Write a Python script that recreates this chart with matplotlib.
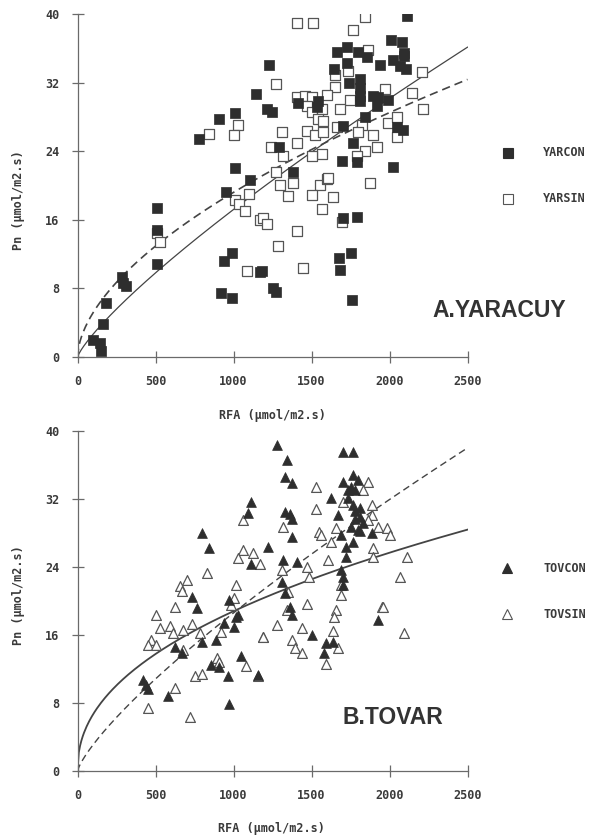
import numpy as np
import matplotlib
matplotlib.use("Agg")
import matplotlib.pyplot as plt

# ---------------- data ----------------
yarcon_x = [100,144,150,163,183,285,290,311,510,510,510,952,1106,942,990,920,990,1170,1185,1250,1274,
            1700,1792,1677,1754,1683,1760,1228,1144,1215,1247,907,1010,779,1290,1010,
            2113,2010,2080,2093,2093,2023,2068,2106,1939,1727,1664,1799,1856,1727,1644,1741,1811,1811,1811,1811,
            1895,1927,1920,1991,1843,1414,1542,1535,1702,2048,2087,1766,1695,1792,2023,1381]
yarcon_y = [2.0,1.6,0.7,3.9,6.3,9.3,8.6,8.3,17.4,14.8,10.9,19.2,20.6,11.2,12.1,7.5,6.9,9.9,10.0,8.0,7.6,
            16.2,16.3,11.6,12.1,10.2,6.7,34.1,30.7,28.9,28.6,27.8,28.5,25.4,24.5,22.0,
            39.8,37.0,36.7,35.5,35.1,34.6,33.9,33.6,34.0,36.2,35.6,35.6,35.0,34.3,33.6,32.0,32.4,31.4,30.4,29.8,
            30.4,30.3,29.3,30.0,28.0,29.6,29.8,29.2,26.9,26.8,26.5,25.0,22.8,22.7,22.2,21.6]

yarsin_x = [510,529,1010,1036,1074,1100,1170,1189,1215,1286,1087,1298,1381,1554,1600,1875,1350,1503,1637,1567,1407,
            1445,1695,1272,1029,1003,843,1240,1272,1407,1510,1843,1766,1860,1735,1651,2209,1971,2145,1651,1600,
            1407,1458,1503,1747,1471,1503,1567,1683,2215,1542,1574,1664,1824,1991,2048,1311,1471,1522,1574,1798,
            1895,2048,1407,1920,1843,1318,1567,1503,1792,1606]
yarsin_y = [14.5,13.4,18.3,17.8,17.0,19.0,16.0,16.2,15.5,12.9,10.0,20.1,20.3,20.0,20.7,20.3,18.8,18.9,18.7,17.3,14.7,
            10.4,15.8,31.8,27.0,25.9,26.0,24.5,21.6,38.9,38.9,39.7,38.1,35.8,33.4,32.9,33.2,31.3,30.8,31.5,30.5,
            30.3,30.4,30.3,30.0,29.3,28.6,28.9,28.9,28.9,27.7,27.5,26.8,27.1,27.3,28.0,26.2,26.4,25.9,26.2,26.2,
            25.9,25.7,25.0,24.5,24.0,23.4,23.7,23.4,23.4,20.9]

tovcon_x = [1282,1115,1090,801,840,1218,1115,737,763,974,1013,942,1000,1026,801,885,628,667,853,910,1045,962,1154,
            417,436,449,583,968,1705,1763,1340,1327,1378,1769,1795,1705,1750,1782,1731,1737,1622,1769,1814,1782,
            1667,1814,1333,1378,1365,1782,1833,1750,1891,1795,1814,1686,1763,1718,1378,1724,1320,1410,1314,1333,
            1686,1705,1705,1365,1378,1929,1506,1590,1635,1577]
tovcon_y = [38.4,31.6,30.4,28.0,26.2,26.4,24.4,20.5,19.2,20.1,18.1,17.4,17.0,18.4,15.2,15.4,14.6,13.9,12.5,12.2,13.5,11.2,11.3,
            10.7,10.1,9.6,8.8,7.9,37.5,37.5,36.6,34.6,33.9,34.8,34.2,34.0,33.4,33.1,33.1,32.1,32.1,31.3,30.9,30.6,
            30.1,29.9,30.5,29.6,30.2,29.6,29.2,28.7,28.0,28.4,28.2,27.8,26.9,26.4,27.5,25.2,24.8,24.6,22.2,20.9,
            23.6,22.8,21.9,19.3,18.4,17.8,16.0,15.1,15.2,13.9]

tovsin_x = [1064,1064,1122,1026,1167,827,705,654,673,1019,1006,622,500,981,532,596,615,679,731,786,468,455,500,679,
            897,905,1077,756,801,1154,628,455,724,1186,1276,917,1526,1865,1827,1705,1532,1891,1891,1859,1929,1987,
            2006,1654,1545,1558,1320,1622,1897,2115,1897,1603,1474,1314,1481,1686,2070,1686,1352,1468,1654,1955,
            1346,1192,1442,1378,1397,1436,1647,1635,1673,1590,1961,2090]
tovsin_y = [29.5,26.0,25.6,25.1,24.4,23.3,22.5,21.8,21.2,21.9,20.4,19.3,18.4,19.5,16.8,17.1,16.2,16.6,17.3,16.2,15.4,14.8,14.8,14.2,
            13.3,12.8,12.3,11.2,11.4,11.2,9.8,7.4,6.4,15.8,17.2,16.4,33.4,34.0,33.1,31.6,30.8,31.3,30.1,29.5,28.7,28.6,
            27.8,28.6,28.1,27.8,28.7,26.9,26.2,25.2,25.2,24.8,24.0,23.6,22.8,21.9,22.8,20.7,21.1,19.6,18.9,19.3,
            18.9,15.8,16.8,15.4,14.5,13.9,18.1,16.5,14.5,12.6,19.3,16.2]

# fitted curves y = a * (x/1000)^b
yar_solid_fit = (17.2, 0.81)
yar_dash_fit = (19.2, 0.57)
tov_solid_fit = (18.8, 0.45)
tov_dash_fit = (18.6, 0.78)

x_ticks = [0, 500, 1000, 1500, 2000, 2500]
y_ticks = [0, 8, 16, 24, 32, 40]

# ---------------- figure ----------------
W, H = 593, 838
fig = plt.figure(figsize=(W/100, H/100), dpi=100)
fig.patch.set_facecolor("white")

axcol = "#6a6a6a"
txtcol = "#3a3a3a"
mono = "DejaVu Sans Mono"

def make_ax(top_px, bot_px):
    left = 77.5 / W
    right = 467.5 / W
    ax = fig.add_axes([left, 1 - bot_px / H, right - left, (bot_px - top_px) / H])
    ax.set_xlim(0, 2500)
    ax.set_ylim(0, 40)
    ax.spines["top"].set_visible(False)
    ax.spines["right"].set_visible(False)
    for s in ("left", "bottom"):
        ax.spines[s].set_color(axcol)
        ax.spines[s].set_linewidth(0.9)
    ax.set_xticks(x_ticks)
    ax.set_yticks(y_ticks)
    ax.tick_params(direction="inout", length=8, width=0.9, color=axcol,
                   labelsize=8.5, labelcolor=txtcol)
    ax.tick_params(axis="x", pad=9)
    ax.tick_params(axis="y", pad=9)
    for lab in ax.get_xticklabels() + ax.get_yticklabels():
        lab.set_fontfamily(mono)
        lab.set_fontweight("bold")
    ax.set_facecolor("none")
    return ax

xx = np.linspace(0, 2500, 300)

def curve(ax, fit, ls, lw, dashes=None):
    a, b = fit
    line, = ax.plot(xx, a * (xx / 1000.0) ** b, color="#444444", lw=lw, ls=ls)
    if dashes:
        line.set_dashes(dashes)

# Panel A
axA = make_ax(14, 357)
axA.scatter(yarsin_x, yarsin_y, marker="s", s=46, facecolors="white", edgecolors="#555555", linewidths=0.9, zorder=3)
axA.scatter(yarcon_x, yarcon_y, marker="s", s=46, facecolors="#2e2e2e", edgecolors="#2e2e2e", linewidths=0.5, zorder=3)
curve(axA, yar_solid_fit, "-", 0.9)
curve(axA, yar_dash_fit, "--", 1.2, dashes=(5, 3))

# Panel B
axB = make_ax(431, 771)
axB.scatter(tovsin_x, tovsin_y, marker="^", s=50, facecolors="white", edgecolors="#555555", linewidths=0.9, zorder=3)
axB.scatter(tovcon_x, tovcon_y, marker="^", s=50, facecolors="#2e2e2e", edgecolors="#2e2e2e", linewidths=0.5, zorder=3)
curve(axB, tov_solid_fit, "-", 1.3)
curve(axB, tov_dash_fit, "--", 1.0, dashes=(5, 3))

# axis labels
lab_kw = dict(fontfamily=mono, fontweight="bold", fontsize=8.5, color=txtcol)
fig.text(272 / W, 1 - 415 / H, "RFA (\u03bcmol/m2.s)", ha="center", va="center", **lab_kw)
fig.text(271 / W, 1 - 828 / H, "RFA (\u03bcmol/m2.s)", ha="center", va="center", **lab_kw)
fig.text(19 / W, 1 - 200 / H, "Pn (\u03bcmol/m2.s)", ha="center", va="center", rotation=90, **lab_kw)
fig.text(19 / W, 1 - 595 / H, "Pn (\u03bcmol/m2.s)", ha="center", va="center", rotation=90, **lab_kw)

# legends (manual)
def legend_entry(xp, yp, marker, filled, label):
    fig.lines.append(plt.Line2D([xp / W], [1 - yp / H], marker=marker, markersize=6.5, ls="none",
                                markerfacecolor="#2e2e2e" if filled else "white",
                                markeredgecolor="#2e2e2e" if filled else "#555555",
                                markeredgewidth=0.8, transform=fig.transFigure))
    fig.text(543 / W, 1 - yp / H, label, ha="left", va="center", **lab_kw)

legend_entry(508, 153, "s", True, "YARCON")
legend_entry(508, 199, "s", False, "YARSIN")
legend_entry(507, 568, "^", True, "TOVCON")
legend_entry(507, 614, "^", False, "TOVSIN")

# panel titles
fig.text(432 / W, 1 - 310 / H, "A.YARACUY", ha="left", va="center", fontsize=16.5,
         fontfamily="Liberation Sans", fontweight="bold", color="#333333")
fig.text(343 / W, 1 - 717 / H, "B.TOVAR", ha="left", va="center", fontsize=16.5,
         fontfamily="Liberation Sans", fontweight="bold", color="#333333")

fig.savefig("out.png", dpi=100, facecolor="white")
